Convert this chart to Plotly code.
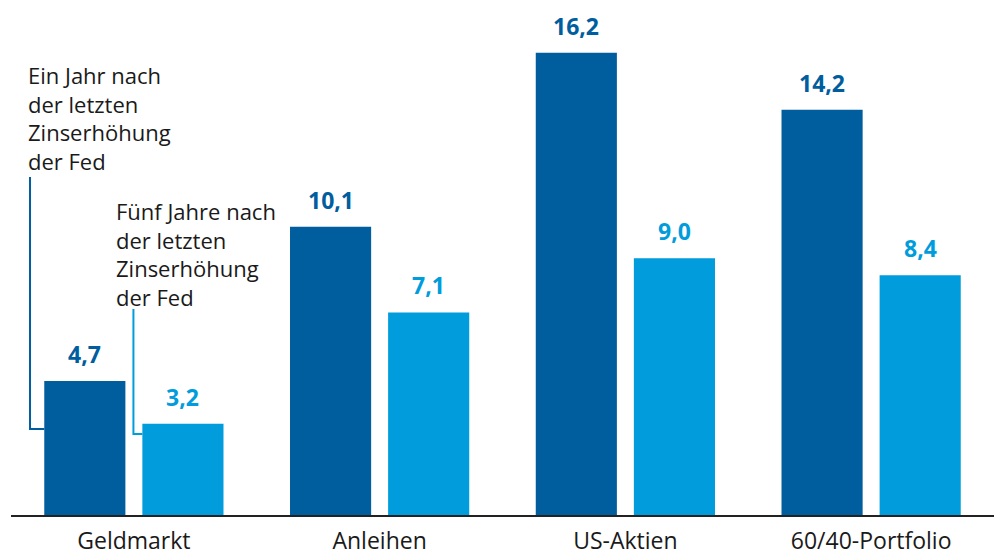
import plotly.graph_objects as go

categories = ["Geldmarkt", "Anleihen", "US-Aktien", "60/40-Portfolio"]
one_year = [4.7, 10.1, 16.2, 14.2]
five_years = [3.2, 7.1, 9.0, 8.4]
series_names = ["Ein Jahr nach der letzten Zinserhöhung der Fed",
                "Fünf Jahre nach der letzten Zinserhöhung der Fed"]

DARK = "#005E9E"
LIGHT = "#009CDC"
TXT = "#1a1a1a"
FONT = "Open Sans"

bargap = 0.2016
bargroupgap = 0.173
slot = (1 - bargap) / 2
bw = slot * (1 - bargroupgap)
xs = list(range(len(categories)))

fig = go.Figure()
fig.add_bar(x=xs, y=one_year, name=series_names[0], marker_color=DARK,
            marker_line_width=0)
fig.add_bar(x=xs, y=five_years, name=series_names[1], marker_color=LIGHT,
            marker_line_width=0)

def fmt(v):
    return f"{v:.1f}".replace(".", ",")

ann = []
for i, (a, b) in enumerate(zip(one_year, five_years)):
    ann.append(dict(x=i - slot / 2, y=a, text=f"<b>{fmt(a)}</b>", showarrow=False,
                    yanchor="bottom", yshift=9, font=dict(size=23, color=DARK, family=FONT)))
    ann.append(dict(x=i + slot / 2, y=b, text=f"<b>{fmt(b)}</b>", showarrow=False,
                    yanchor="bottom", yshift=9, font=dict(size=23, color=LIGHT, family=FONT)))

ann.append(dict(x=-0.439, y=13.93, xanchor="left", yanchor="middle", align="left",
                text="Ein Jahr nach<br>der letzten<br>Zinserhöhung<br>der Fed",
                showarrow=False, font=dict(size=22, color=TXT, family=FONT)))
ann.append(dict(x=-0.0804, y=9.16, xanchor="left", yanchor="middle", align="left",
                text="Fünf Jahre nach<br>der letzten<br>Zinserhöhung<br>der Fed",
                showarrow=False, font=dict(size=22, color=TXT, family=FONT)))

# leader lines
x_dark_left = 0 - slot / 2 - bw / 2
x_light_left = 0 + slot / 2 - bw / 2
shapes = [
    dict(type="path", xref="x", yref="y",
         path=f"M -0.4226,11.85 L -0.4226,3.01 L {x_dark_left},3.01",
         line=dict(color=DARK, width=2)),
    dict(type="path", xref="x", yref="y",
         path=f"M -0.0018,7.22 L -0.0018,2.84 L {x_light_left},2.84",
         line=dict(color=LIGHT, width=2)),
]

fig.update_layout(
    width=999, height=556,
    margin=dict(l=11, r=5, t=0, b=41, autoexpand=False),
    paper_bgcolor="white", plot_bgcolor="white",
    barmode="group", bargap=bargap, bargroupgap=bargroupgap,
    showlegend=False,
    annotations=ann, shapes=shapes,
    font=dict(family=FONT, color=TXT),
)
fig.update_xaxes(range=[-0.5, 3.5], tickvals=xs, ticktext=categories,
                 showgrid=False, zeroline=False, showline=True, linecolor="#222",
                 linewidth=1.5, ticks="outside", ticklen=5, tickcolor="rgba(0,0,0,0)",
                 automargin=False,
                 tickfont=dict(size=23, color=TXT, family=FONT))
fig.update_yaxes(range=[0, 18.05], visible=False, showgrid=False, zeroline=False)

fig.write_html("out.html", config={"displayModeBar": False},
               post_script="document.body.style.margin='0';")
